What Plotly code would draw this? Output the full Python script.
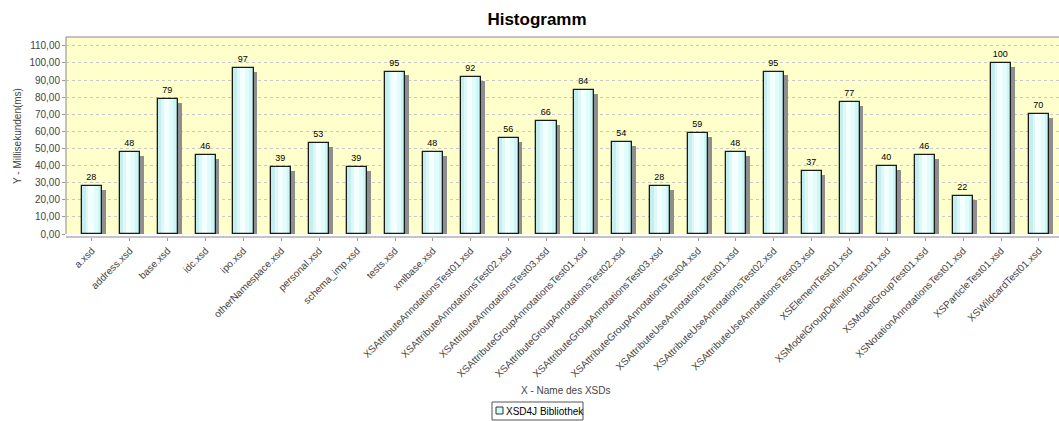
import plotly.graph_objects as go

# Parse times per schema file
categories = [
    "a.xsd", "address.xsd", "base.xsd", "idc.xsd", "ipo.xsd",
    "otherNamespace.xsd", "personal.xsd", "schema_imp.xsd", "tests.xsd",
    "xmlbase.xsd", "XSAttributeAnnotationsTest01.xsd",
    "XSAttributeAnnotationsTest02.xsd", "XSAttributeAnnotationsTest03.xsd",
    "XSAttributeGroupAnnotationsTest01.xsd", "XSAttributeGroupAnnotationsTest02.xsd",
    "XSAttributeGroupAnnotationsTest03.xsd", "XSAttributeGroupAnnotationsTest04.xsd",
    "XSAttributeUseAnnotationsTest01.xsd", "XSAttributeUseAnnotationsTest02.xsd",
    "XSAttributeUseAnnotationsTest03.xsd", "XSElementTest01.xsd",
    "XSModelGroupDefinitionTest01.xsd", "XSModelGroupTest01.xsd",
    "XSNotationAnnotationsTest01.xsd", "XSParticleTest01.xsd",
    "XSWildcardTest01.xsd",
]
values = [28, 48, 79, 46, 97, 39, 53, 39, 95, 48, 92, 56, 66, 84, 54, 28,
          59, 48, 95, 37, 77, 40, 46, 22, 100, 70]
series_name = "XSD4J Bibliothek"

y_tick_values = [0, 10, 20, 30, 40, 50, 60, 70, 80, 90, 100, 110]
y_tick_labels = ["0,00", "10,00", "20,00", "30,00", "40,00", "50,00",
                 "60,00", "70,00", "80,00", "90,00", "100,00", "110,00"]

FONT = "Liberation Sans, Arial, sans-serif"
AXIS_TEXT = "#444444"
BAR_W = 0.53            # bar width in category units
SHADOW_DX = 0.10        # shadow shift to the right (category units)
SHADOW_DY = 2.3         # shadow drop (value units)

# horizontal shading bands across each bar: (start, end, colour) as fractions of width
SHADING = [
    (0.00, 0.18, "#c6eeee"),
    (0.18, 0.32, "#dcf8f8"),
    (0.32, 0.58, "#f4ffff"),
    (0.58, 0.78, "#e2fcfc"),
    (0.78, 1.00, "#cdf6f6"),
]

fig = go.Figure()

# drop shadow
fig.add_trace(go.Bar(
    x=categories, y=[v - SHADOW_DY for v in values],
    width=BAR_W, offset=-BAR_W / 2 + SHADOW_DX,
    marker=dict(color="#8e8e8e", line=dict(width=0)),
    hoverinfo="skip", showlegend=False,
))

# shaded fill
for start, end, colour in SHADING:
    fig.add_trace(go.Bar(
        x=categories, y=values,
        width=BAR_W * (end - start), offset=-BAR_W / 2 + BAR_W * start,
        marker=dict(color=colour, line=dict(width=0)),
        hoverinfo="skip", showlegend=False,
    ))

# outline + value labels
fig.add_trace(go.Bar(
    x=categories, y=values, name=series_name,
    width=BAR_W, offset=-BAR_W / 2,
    marker=dict(color="rgba(0,0,0,0)", line=dict(color="#1a1a1a", width=1.3)),
    text=[str(v) for v in values], textposition="outside",
    textfont=dict(family=FONT, size=9, color="#000000"),
    cliponaxis=False, showlegend=False,
))

plot_h = 200
dom0 = 3 / plot_h

fig.update_layout(
    width=1059, height=421,
    margin=dict(l=66, r=0, t=37, b=184),
    paper_bgcolor="white",
    plot_bgcolor="#ffffcc",
    barmode="overlay",
    bargap=0,
    font=dict(family=FONT, size=10, color=AXIS_TEXT),
    title=dict(text="<b>Histogramm</b>", x=537 / 1059, xref="container",
               xanchor="center", y=1 - 19.5 / 421, yanchor="middle",
               font=dict(family=FONT, size=17, color="#000000")),
    xaxis=dict(
        type="category", range=[-0.686, 25.53],
        anchor="free", position=0,
        showline=True, linecolor="#c4c4c4", linewidth=2,
        ticks="outside", ticklen=3, tickcolor="#999999",
        tickangle=-45, tickfont=dict(family=FONT, size=10, color=AXIS_TEXT),
        showgrid=False, zeroline=False,
    ),
    yaxis=dict(
        domain=[dom0, 1], range=[0, 115.2],
        tickvals=y_tick_values, ticktext=y_tick_labels,
        tickfont=dict(family=FONT, size=10, color=AXIS_TEXT),
        ticks="outside", ticklen=3, tickcolor="#999999",
        showgrid=True, gridcolor="#c8c8c8", gridwidth=1, griddash="3px,3px",
        showline=False, zeroline=False,
    ),
    showlegend=False,
)

# plot frame (top and left edges)
fig.add_shape(type="line", xref="paper", yref="paper", x0=0, x1=1, y0=1, y1=1,
              line=dict(color="#888888", width=1))
fig.add_shape(type="line", xref="paper", yref="paper", x0=0, x1=0, y0=dom0, y1=1,
              line=dict(color="#888888", width=1))

# axis titles
fig.add_annotation(text="Y - Millisekunden(ms)", textangle=-90,
                   xref="paper", yref="paper", x=(17 - 66) / 993, y=(237 - 136) / plot_h,
                   xanchor="center", yanchor="middle", showarrow=False,
                   font=dict(family=FONT, size=10, color=AXIS_TEXT))
fig.add_annotation(text="X - Name des XSDs",
                   xref="paper", yref="paper", x=(565 - 66) / 993, y=(237 - 390) / plot_h,
                   xanchor="center", yanchor="middle", showarrow=False,
                   font=dict(family=FONT, size=10, color=AXIS_TEXT))

# legend box
fig.add_shape(type="rect", xref="paper", yref="paper",
              x0=(492 - 66) / 993, x1=(583 - 66) / 993,
              y0=(237 - 420) / plot_h, y1=(237 - 402) / plot_h,
              line=dict(color="#555555", width=1), fillcolor="white")
fig.add_shape(type="rect", xref="paper", yref="paper",
              x0=(496 - 66) / 993, x1=(503 - 66) / 993,
              y0=(237 - 414) / plot_h, y1=(237 - 407) / plot_h,
              line=dict(color="#333333", width=1), fillcolor="#d4fafa")
fig.add_annotation(text=series_name, xref="paper", yref="paper",
                   x=(504 - 66) / 993, y=(237 - 411) / plot_h,
                   xanchor="left", yanchor="middle", showarrow=False,
                   font=dict(family=FONT, size=10, color="#000000"))

fig.write_html("out.html")
